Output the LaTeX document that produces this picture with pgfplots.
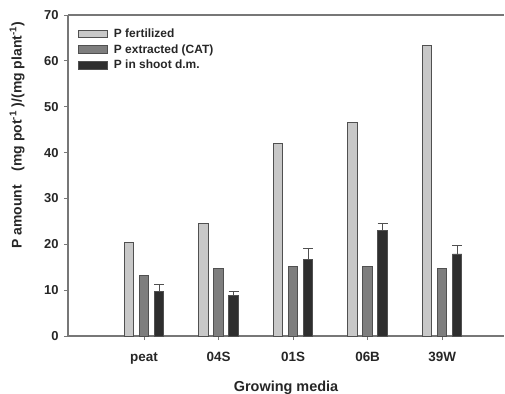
\documentclass[border=0pt]{standalone}
\usepackage{fontspec}
\setmainfont{Liberation Sans}
\usepackage{pgfplots}
\pgfplotsset{compat=1.18}

\definecolor{fert}{HTML}{C8C8C8}
\definecolor{extr}{HTML}{7E7E7E}
\definecolor{shoot}{HTML}{2E2E2E}
\definecolor{edge}{HTML}{505050}
\definecolor{axisgray}{HTML}{777777}

\begin{document}
\begin{tikzpicture}
\begin{axis}[
  name=ax,
  at={(0,0)}, anchor=south west,
  scale only axis,
  width=436bp, height=321bp,
  xmin=-0.02, xmax=5.83,
  ymin=0, ymax=70,
  axis lines=left,
  axis line style={axisgray, line width=1.2bp, -},
  ybar, bar width=9.5bp,
  xtick={1,2,3,4,5},
  xticklabels={peat,04S,01S,06B,39W},
  ytick={0,10,...,70},
  tick align=outside,
  major tick length=4bp,
  tick style={axisgray, line width=1bp},
  tick label style={font=\bfseries\fontsize{13}{15}\selectfont, text=black!85},
  x tick label style={yshift=-9bp, font=\bfseries\fontsize{13.5}{15}\selectfont},
  y tick label style={xshift=-2bp},
  /pgf/number format/assume math mode=true,
  xlabel={Growing media},
  xlabel style={font=\bfseries\fontsize{14.5}{16}\selectfont, text=black!85, yshift=-10bp},
  ylabel={P amount\quad (mg pot\textsuperscript{-1} )/(mg plant\textsuperscript{-1})},
  ylabel style={font=\bfseries\fontsize{14}{16}\selectfont, text=black!85,
    at={(rel axis cs:0,0.625)}, anchor=south, yshift=40bp},
  legend style={at={(rel axis cs:0.016,0.970)}, anchor=north west,
    draw=none, fill=none, row sep=1.5bp,
    font=\bfseries\fontsize{12}{14}\selectfont, text=black!85},
  legend cell align=left,
  legend image code/.code={\draw[#1] (0bp,-3.8bp) rectangle (29bp,3.8bp);
    \path (33bp,0bp);},
  clip=false,
]
\addplot[bar shift=-15bp, fill=fert, draw=edge, line width=0.8bp]
  coordinates {(1,20.4) (2,24.5) (3,41.9) (4,46.6) (5,63.4)};
\addlegendentry{P fertilized}
\addplot[bar shift=0bp, fill=extr, draw=edge, line width=0.8bp]
  coordinates {(1,13.3) (2,14.8) (3,15.1) (4,15.1) (5,14.7)};
\addlegendentry{P extracted (CAT)}
\addplot[bar shift=15bp, fill=shoot, draw=edge, line width=0.8bp,
  error bars/.cd, y dir=plus, y explicit,
  error bar style={edge, line width=1bp},
  error mark options={rotate=90, mark size=5bp, edge, line width=1bp}]
  coordinates {(1,9.7) +- (0,1.6) (2,8.9) +- (0,0.9) (3,16.6) +- (0,2.4)
               (4,23.1) +- (0,1.5) (5,17.9) +- (0,1.8)};
\addlegendentry{P in shoot d.m.}
\draw[axisgray, line width=1.2bp] (rel axis cs:0,1) -- (rel axis cs:1,1);
\end{axis}
\pgfresetboundingbox
\path (ax.south west) ++(-68bp,-58bp) rectangle ++(505bp,394bp);
\end{tikzpicture}
\end{document}
